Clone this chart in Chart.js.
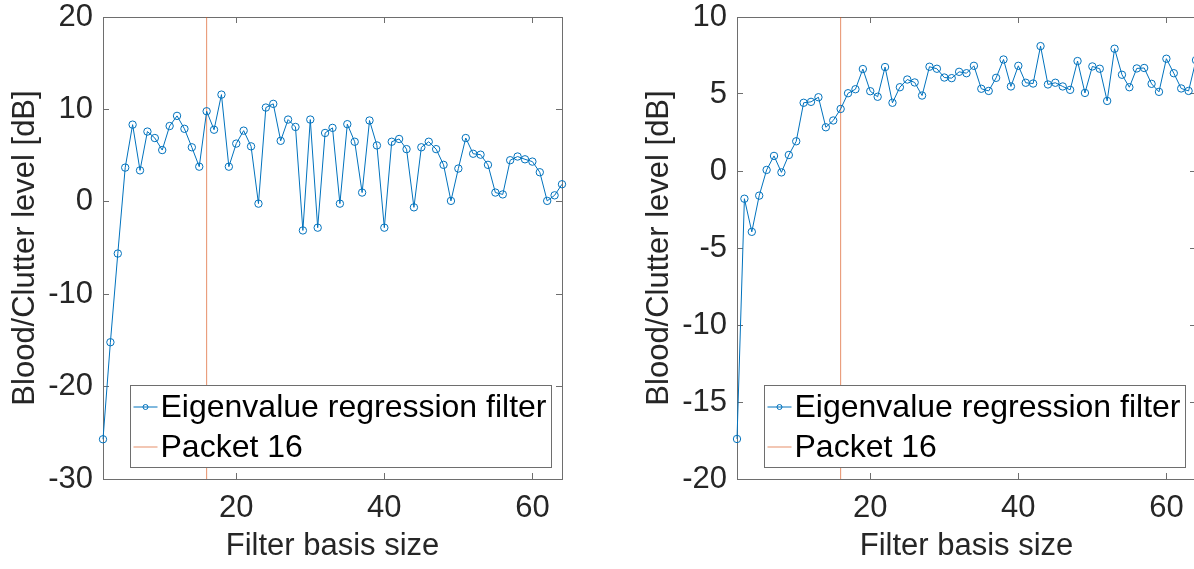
<!DOCTYPE html>
<html>
<head>
<meta charset="utf-8">
<title>Blood/Clutter level vs filter basis size</title>
<script src="https://cdn.jsdelivr.net/npm/chart.js@4.4.1/dist/chart.umd.min.js"></script>
<style>
  html, body { margin: 0; padding: 0; background: #fff; overflow: hidden; }
  #wrap { position: relative; width: 1194px; height: 569px; overflow: hidden; }
  .panel { position: absolute; top: 0; width: 600px; height: 569px; }
  #panelLeft { left: 0; }
  #panelRight { left: 634px; }
</style>
</head>
<body>
<div id="wrap">
  <div class="panel" id="panelLeft"><canvas id="leftChart" width="600" height="569"></canvas></div>
  <div class="panel" id="panelRight"><canvas id="rightChart" width="600" height="569"></canvas></div>
</div>
<script>
// Filter basis sizes (x) shared by both panels
const basisSizes = [
  2, 3, 4, 5, 6, 7, 8, 9, 10, 11, 12, 13, 14, 15, 16, 17, 18, 19, 20, 21, 22,
  23, 24, 25, 26, 27, 28, 29, 30, 31, 32, 33, 34, 35, 36, 37, 38, 39, 40, 41, 42, 43,
  44, 45, 46, 47, 48, 49, 50, 51, 52, 53, 54, 55, 56, 57, 58, 59, 60, 61, 62, 63, 64
];

// Blood/Clutter level [dB], left panel
const leftLevels = [
  -25.7, -15.2, -5.6, 3.7, 8.35, 3.4, 7.6, 6.9, 5.6, 8.2, 9.3, 7.9, 5.9, 3.8, 9.8, 7.8,
  11.6, 3.8, 6.3, 7.7, 6.0, -0.2, 10.2, 10.6, 6.6, 8.9, 8.1, -3.1, 8.9, -2.8, 7.45, 8.0,
  -0.2, 8.4, 6.5, 1.0, 8.8, 6.1, -2.8, 6.5, 6.8, 5.7, -0.6, 5.9, 6.5, 5.7, 4.0, 0.1,
  3.6, 6.9, 5.2, 5.1, 4.0, 1.0, 0.8, 4.5, 4.9, 4.6, 4.35, 3.2, 0.1, 0.7, 1.9
];

// Blood/Clutter level [dB], right panel
const rightLevels = [
  -17.4, -1.8, -3.95, -1.6, 0.07, 0.98, -0.09, 1.04, 1.93, 4.43, 4.49, 4.79, 2.84, 3.28,
  4.03, 5.05, 5.31, 6.62, 5.18, 4.82, 6.75, 4.43, 5.44, 5.94, 5.75, 4.9, 6.77, 6.64,
  6.07, 6.03, 6.44, 6.35, 6.83, 5.34, 5.2, 6.05, 7.24, 5.49, 6.83, 5.73, 5.68, 8.11,
  5.62, 5.73, 5.49, 5.27, 7.14, 5.07, 6.79, 6.64, 4.55, 7.94, 6.25, 5.44, 6.66, 6.69,
  5.66, 5.14, 7.29, 6.35, 5.36, 5.2, 7.2
];

const packetSize = 16;
const xTickValues = [20, 40, 60];
const leftYTicks = [-30, -20, -10, 0, 10, 20];
const rightYTicks = [-20, -15, -10, -5, 0, 5, 10];
const seriesLabel = 'Eigenvalue regression filter';
const packetLabel = 'Packet 16';

const FONT = '"Liberation Sans", Arial, Helvetica, sans-serif';
const AXIS = '#6e6e6e';
const TEXT = '#262626';
const BLUE = '#0072BD';
const ORANGE = 'rgba(217, 83, 25, 0.65)';
const fontSpec = { family: FONT, size: 31, lineHeight: 1.2 };

// Legend drawn inside the axes with a white box and grey frame
const boxedLegend = {
  id: 'boxedLegend',
  afterDraw(chart) {
    const { ctx, chartArea } = chart;
    const x0 = Math.round(chartArea.left + 27) + 0.5;
    const y0 = Math.round(chartArea.bottom - 94) + 0.5;
    const w = 421, h = 82;
    ctx.save();
    ctx.fillStyle = '#fff';
    ctx.fillRect(x0, y0, w, h);
    ctx.strokeStyle = AXIS;
    ctx.lineWidth = 1;
    ctx.strokeRect(x0, y0, w, h);
    ctx.font = `32px ${FONT}`;
    ctx.textBaseline = 'middle';
    ctx.textAlign = 'left';
    chart.data.datasets.forEach((ds, i) => {
      const cy = y0 + 21.5 + i * 40;
      ctx.strokeStyle = ds.borderColor;
      ctx.lineWidth = 1;
      ctx.beginPath();
      ctx.moveTo(x0 + 3, cy);
      ctx.lineTo(x0 + 27, cy);
      ctx.stroke();
      if (ds.pointRadius > 0) {
        ctx.beginPath();
        ctx.arc(x0 + 15, cy, 2.5, 0, Math.PI * 2);
        ctx.stroke();
      }
      ctx.fillStyle = '#000';
      ctx.fillText(ds.label, x0 + 30, cy + 1.5);
    });
    ctx.restore();
  }
};

function tickList(values) {
  return (scale) => { scale.ticks = values.map(v => ({ value: v })); };
}

function makeChart(canvasId, levels, yTicks) {
  const yMin = yTicks[0];
  const yMax = yTicks[yTicks.length - 1];
  const points = basisSizes.map((n, i) => ({ x: n, y: levels[i] }));

  const edge = {
    grid: { drawOnChartArea: false, drawTicks: true, tickLength: -6, color: AXIS, lineWidth: 1 },
    border: { display: true, color: AXIS, width: 1 }
  };

  return new Chart(document.getElementById(canvasId), {
    type: 'line',
    data: {
      datasets: [
        {
          label: seriesLabel,
          data: points,
          borderColor: BLUE,
          borderWidth: 1,
          pointStyle: 'circle',
          pointRadius: 3.7,
          pointBorderWidth: 1,
          pointBorderColor: BLUE,
          pointBackgroundColor: 'rgba(0,0,0,0)',
          tension: 0,
          clip: false,
          order: 0
        },
        {
          label: packetLabel,
          data: [{ x: packetSize, y: yMin }, { x: packetSize, y: yMax }],
          borderColor: ORANGE,
          borderWidth: 1,
          pointRadius: 0,
          clip: false,
          order: 1
        }
      ]
    },
    options: {
      responsive: false,
      animation: false,
      events: [],
      layout: { padding: { top: 17, right: 38, left: 0, bottom: 0 } },
      plugins: { legend: { display: false }, tooltip: { enabled: false } },
      scales: {
        x: {
          type: 'linear', position: 'bottom', min: 2, max: 64,
          afterBuildTicks: tickList(xTickValues),
          afterFit: (s) => { s.height = 90; s.paddingLeft = 0; s.paddingRight = 0; },
          ticks: { font: fontSpec, color: TEXT, padding: 17, maxRotation: 0, autoSkip: false },
          title: { display: true, text: 'Filter basis size', font: fontSpec, color: TEXT, padding: { top: 0, bottom: 4 } },
          ...edge
        },
        xTop: {
          type: 'linear', position: 'top', min: 2, max: 64,
          afterBuildTicks: tickList(xTickValues),
          afterFit: (s) => { s.height = 0; s.paddingLeft = 0; s.paddingRight = 0; },
          ticks: { display: false },
          ...edge
        },
        y: {
          type: 'linear', position: 'left', min: yMin, max: yMax,
          afterBuildTicks: tickList(yTicks),
          afterFit: (s) => { s.width = 103; s.paddingTop = 0; s.paddingBottom = 0; },
          ticks: { font: fontSpec, color: TEXT, padding: 16, autoSkip: false },
          title: { display: true, text: 'Blood/Clutter level [dB]', font: fontSpec, color: TEXT, padding: { top: 7, bottom: 0 } },
          ...edge
        },
        yRight: {
          type: 'linear', position: 'right', min: yMin, max: yMax,
          afterBuildTicks: tickList(yTicks),
          afterFit: (s) => { s.width = 0; s.paddingTop = 0; s.paddingBottom = 0; },
          ticks: { display: false },
          ...edge
        }
      }
    },
    plugins: [boxedLegend]
  });
}

makeChart('leftChart', leftLevels, leftYTicks);
makeChart('rightChart', rightLevels, rightYTicks);
</script>
</body>
</html>
